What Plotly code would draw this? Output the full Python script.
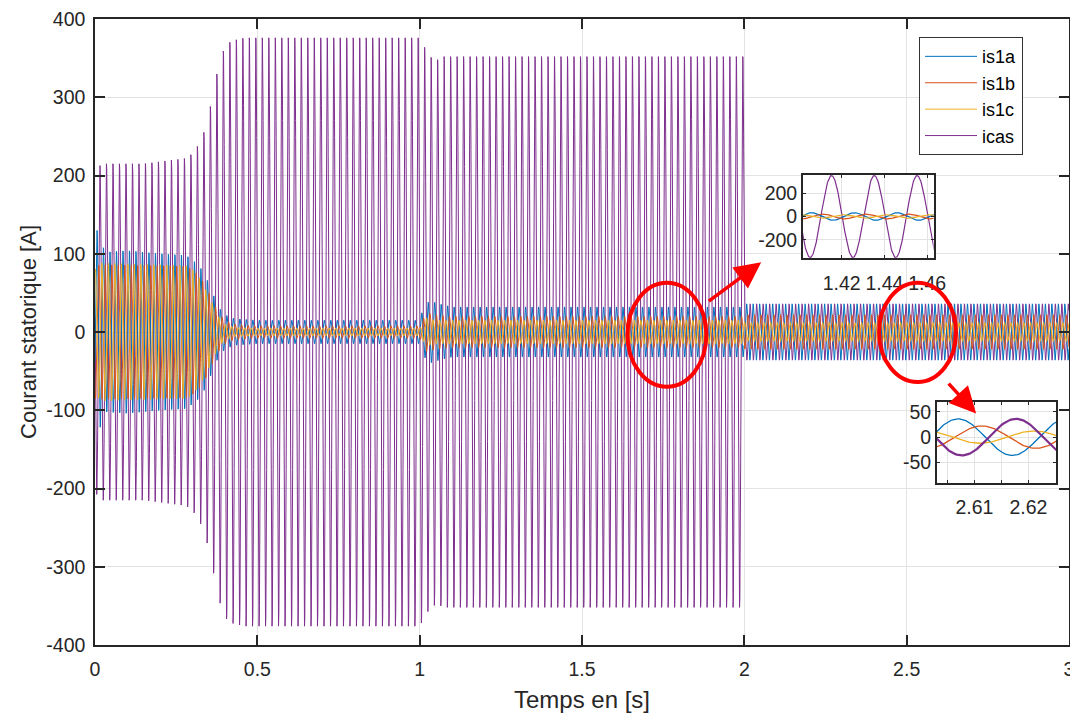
import numpy as np
import plotly.graph_objects as go

# ---------------- data ----------------
F_HZ = 50.0          # supply frequency
T_END = 3.0
DT = 0.00025

# envelope breakpoints (time [s]) and peak amplitude [A] of each current
IS1A_T   = [0, 0.008, 0.03, 0.10, 0.20, 0.28, 0.30, 0.32, 0.34, 0.36, 0.38, 0.40, 0.43, 0.50, 1.00, 1.01, 1.03, 1.06, 1.10, 1.998, 2.002, 3.0]
IS1A_AMP = [120, 133, 102, 104, 100, 98, 92, 85, 72, 52, 32, 22, 17, 15, 15, 30, 40, 36, 32, 32, 36, 36]

IS1B_T   = [0, 0.02, 0.28, 0.30, 0.32, 0.34, 0.36, 0.38, 0.40, 0.43, 0.50, 1.00, 1.02, 1.05, 1.10, 1.998, 2.002, 3.0]
IS1B_AMP = [85, 86, 84, 80, 72, 60, 42, 25, 15, 10, 8, 8, 25, 22, 20, 20, 22, 22]

IS1C_T   = [0, 0.02, 0.28, 0.30, 0.32, 0.34, 0.36, 0.38, 0.40, 0.43, 0.50, 1.00, 1.02, 1.05, 1.10, 1.998, 2.002, 3.0]
IS1C_AMP = [80, 88, 85, 80, 70, 55, 38, 20, 10, 6, 5, 5, 18, 15, 15, 15, 12, 12]

ICAS_T   = [0, 0.02, 0.15, 0.28, 0.30, 0.32, 0.34, 0.36, 0.38, 0.40, 0.42, 0.46, 1.00, 1.015, 1.035, 1.055, 1.075, 1.10, 1.998, 2.002, 3.0]
ICAS_AMP = [205, 215, 215, 222, 228, 240, 260, 297, 340, 365, 372, 376, 376, 364, 351, 348, 352, 352, 352, 36, 36]

# time of a positive peak (modulo one period) before / after t = 2 s
PHASE_SWITCH_T = 2.0
IS1A_PEAK = [0.0060, 0.0070]
IS1B_PEAK = [0.0114, 0.0114]
IS1C_PEAK = [0.0010, 0.0010]
ICAS_PEAK = [0.0153, 0.0177]

SERIES_NAMES = ["is1a", "is1b", "is1c", "icas"]
COLORS = {"is1a": "#0072BD", "is1b": "#D95319", "is1c": "#EDB120", "icas": "#7E2F8E"}

X_TICKS = [0, 0.5, 1, 1.5, 2, 2.5, 3]
X_TICK_TEXT = ["0", "0.5", "1", "1.5", "2", "2.5", "3"]
Y_TICKS = [-400, -300, -200, -100, 0, 100, 200, 300, 400]
Y_TICK_TEXT = ["-400", "-300", "-200", "-100", "0", "100", "200", "300", "400"]

INSET1_X = [1.402, 1.463]
INSET1_Y = [-358, 358]
INSET1_XT = [1.42, 1.44, 1.46]
INSET1_XT_TEXT = ["1.42", "1.44", "1.46"]
INSET1_YT = [-200, 0, 200]
INSET1_YT_TEXT = ["-200", "0", "200"]

INSET2_X = [2.6031, 2.6251]
INSET2_Y = [-90, 69]
INSET2_XT = [2.605, 2.61, 2.615, 2.62]
INSET2_XT_TEXT = ["", "2.61", "", "2.62"]
INSET2_YT = [-50, 0, 50]
INSET2_YT_TEXT = ["-50", "0", "50"]

# ---------------- build waveforms ----------------
t = np.arange(0, T_END + DT / 2, DT)


def wave(env_t, env_a, peaks):
    amp = np.interp(t, env_t, env_a)
    peak = np.where(t < PHASE_SWITCH_T, peaks[0], peaks[1])
    return amp * np.cos(2 * np.pi * F_HZ * (t - peak))


signals = {
    "is1a": wave(IS1A_T, IS1A_AMP, IS1A_PEAK),
    "is1b": wave(IS1B_T, IS1B_AMP, IS1B_PEAK),
    "is1c": wave(IS1C_T, IS1C_AMP, IS1C_PEAK),
    "icas": wave(ICAS_T, ICAS_AMP, ICAS_PEAK),
}

FONT = "Liberation Sans, Arial, Helvetica, sans-serif"
INK = "#262626"
GRID = "#e3e3e3"
TICK_SIZE = 19.5

fig = go.Figure()

draw_order = ["icas", "is1a", "is1b", "is1c"]
for name in draw_order:
    fig.add_trace(go.Scatter(
        x=t, y=signals[name], mode="lines", name=name,
        line=dict(color=COLORS[name], width=1.0),
        legendrank=SERIES_NAMES.index(name) + 1,
        xaxis="x", yaxis="y", hoverinfo="skip",
    ))

# inset 1
m1 = (t >= INSET1_X[0] - 0.002) & (t <= INSET1_X[1] + 0.002)
for name in draw_order:
    fig.add_trace(go.Scatter(
        x=t[m1], y=signals[name][m1], mode="lines", showlegend=False,
        line=dict(color=COLORS[name], width=1.2),
        xaxis="x2", yaxis="y2", hoverinfo="skip",
    ))
# inset 2
m2 = (t >= INSET2_X[0] - 0.002) & (t <= INSET2_X[1] + 0.002)
for name in ["is1a", "is1b", "is1c", "icas"]:
    fig.add_trace(go.Scatter(
        x=t[m2], y=signals[name][m2], mode="lines", showlegend=False,
        line=dict(color=COLORS[name], width=2.2 if name == "icas" else 1.3),
        xaxis="x3", yaxis="y3", hoverinfo="skip",
    ))

axis_common = dict(
    showline=True, linecolor=INK, mirror="ticks", ticks="inside",
    tickcolor=INK, showgrid=True, gridcolor=GRID, gridwidth=1,
    zeroline=False, automargin=False, ticklabeloverflow="allow",
    tickfont=dict(family=FONT, size=TICK_SIZE, color=INK),
)

fig.update_layout(
    width=1070, height=715,
    margin=dict(l=95, r=1, t=19, b=70),
    paper_bgcolor="white", plot_bgcolor="white",
    font=dict(family=FONT, color=INK),
    xaxis=dict(**axis_common, range=[0, 3], tickvals=X_TICKS, ticktext=X_TICK_TEXT,
               ticklen=10, linewidth=1.5, tickwidth=1.5, ticklabelstandoff=6,
               title=dict(text="Temps en [s]", font=dict(size=24, color=INK), standoff=12)),
    yaxis=dict(**axis_common, range=[-400, 400], tickvals=Y_TICKS, ticktext=Y_TICK_TEXT,
               ticklen=10, linewidth=1.5, tickwidth=1.5, ticklabelstandoff=4,
               title=dict(text="Courant statorique [A]", font=dict(size=22, color=INK), standoff=4)),
    xaxis2=dict(**axis_common, domain=[0.727, 0.861], anchor="y2", range=INSET1_X,
                tickvals=INSET1_XT, ticktext=INSET1_XT_TEXT, tickangle=0,
                ticklen=3, linewidth=2, ticklabelstandoff=6),
    yaxis2=dict(**axis_common, domain=[0.618, 0.751], anchor="x2", range=INSET1_Y,
                tickvals=INSET1_YT, ticktext=INSET1_YT_TEXT, ticklen=3, linewidth=2),
    xaxis3=dict(**axis_common, domain=[0.8645, 0.9867], anchor="y3", range=INSET2_X,
                tickvals=INSET2_XT, ticktext=INSET2_XT_TEXT, tickangle=0,
                ticklen=3, linewidth=2, ticklabelstandoff=6),
    yaxis3=dict(**axis_common, domain=[0.259, 0.388], anchor="x3", range=INSET2_Y,
                tickvals=INSET2_YT, ticktext=INSET2_YT_TEXT, ticklen=3, linewidth=2),
    legend=dict(x=0.846, y=0.971, xanchor="left", yanchor="top",
                bgcolor="white", bordercolor="#333333", borderwidth=1,
                font=dict(family=FONT, size=18, color="#000000"),
                itemwidth=52, tracegroupgap=0),
    showlegend=True,
)

# red circles highlighting zoomed regions
fig.add_shape(type="circle", xref="x", yref="y", x0=1.640, x1=1.883, y0=-70, y1=63,
              line=dict(color="#FF0000", width=4))
fig.add_shape(type="circle", xref="x", yref="y", x0=2.415, x1=2.652, y0=-64, y1=63,
              line=dict(color="#FF0000", width=4))

# arrows to the insets
fig.add_annotation(x=2.052, y=89, ax=1.886, ay=38, xref="x", yref="y", axref="x", ayref="y",
                   text="", showarrow=True, arrowhead=2, arrowsize=1.5, arrowwidth=3.5,
                   arrowcolor="#FF0000")
fig.add_annotation(x=2.714, y=-104, ax=2.625, ay=-64, xref="x", yref="y", axref="x", ayref="y",
                   text="", showarrow=True, arrowhead=2, arrowsize=1.5, arrowwidth=3.5,
                   arrowcolor="#FF0000")

fig.write_html(
    "out.html",
    config={"displayModeBar": False},
    post_script="document.body.style.margin='0';document.body.style.overflow='hidden';",
)
